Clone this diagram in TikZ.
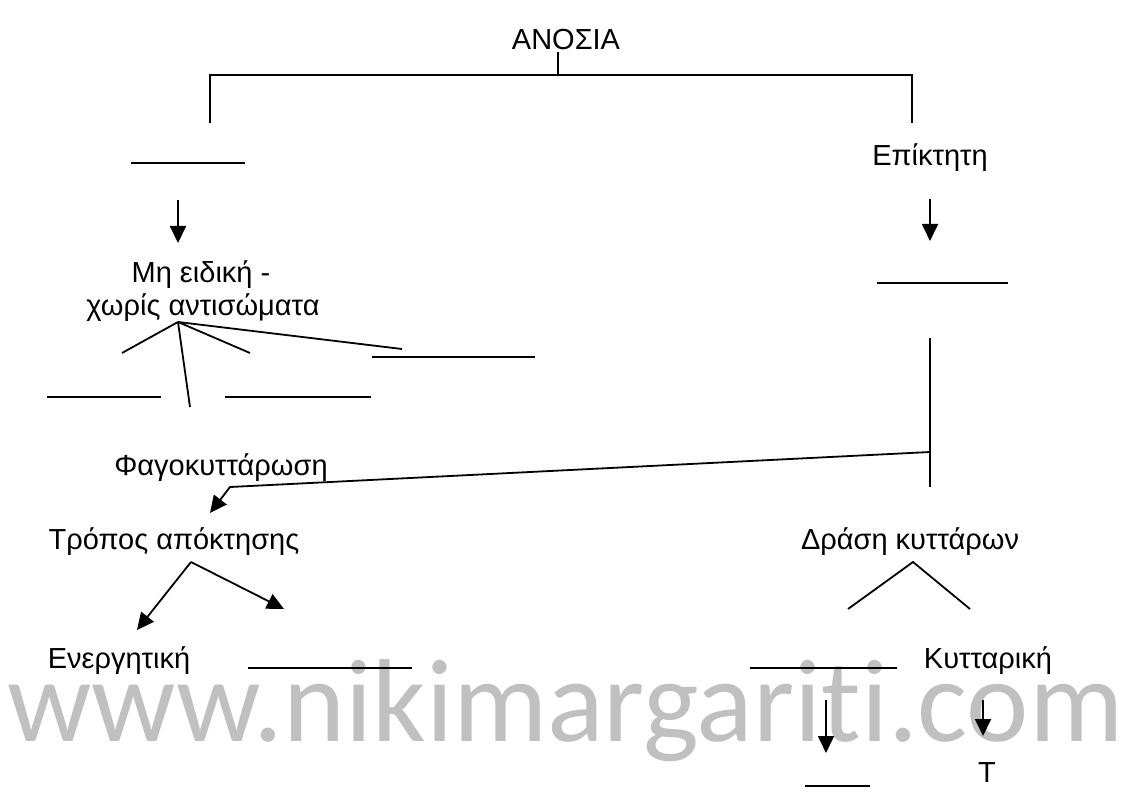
\documentclass[tikz,border=0pt]{standalone}
\usepackage{fontspec}
\setmainfont{Liberation Sans}
\newfontfamily\wmfont{Carlito}[Ligatures=NoCommon]
\usetikzlibrary{arrows.meta}
\definecolor{wmgrey}{RGB}{192,192,192}
\tikzset{
  lbl/.style={anchor=base, inner sep=0pt, font=\fontsize{29}{35}\selectfont},
  ln/.style={line width=1.8pt, line cap=butt},
  arr/.style={ln, -{Triangle[length=17pt,width=16pt]}},
}
\begin{document}
\begin{tikzpicture}[x=1pt,y=-1pt]
\useasboundingbox[fill=white] (0,0) rectangle (1135,794);

% site watermark behind the chart
\node[anchor=base west, inner sep=0pt, text=wmgrey, font=\wmfont\fontsize{118}{120}\selectfont] (wm) at (7,741) {www.nikimargarit\kern0pt i\kern0pt.com};

% labels
\node[lbl] (anosia) at (566,50) {ΑΝΟΣΙΑ};
\node[lbl] (epikt) at (930,166) {Επίκτητη};
\node[lbl] (mh1) at (201,283) {Μη ειδική -};
\node[lbl] (mh2) at (203,316) {χωρίς αντισώματα};
\node[lbl] (fago) at (221,475) {Φαγοκυττάρωση};
\node[lbl] (tropos) at (174,549) {Τρόπος απόκτησης};
\node[lbl] (drasi) at (910,549) {Δράση κυττάρων};
\node[lbl] (energ) at (119,668) {Ενεργητική};
\node[lbl] (kyttar) at (988,668) {Κυτταρική};
\node[lbl] (tcell) at (987,782) {Τ};

% points used by the connectors
\coordinate (stemT) at (558,52);
\coordinate (stemB) at (558,75);
\coordinate (barL) at (210,75);
\coordinate (barR) at (912,75);
\coordinate (dropL) at (210,123);
\coordinate (dropR) at (912,123);
\coordinate (aLs) at (178,200);
\coordinate (aLe) at (178,243);
\coordinate (aRs) at (930,199);
\coordinate (aRe) at (930,241);
\coordinate (fan) at (178,322);
\coordinate (fan1) at (122,353);
\coordinate (fan2) at (190,407);
\coordinate (fan3) at (250,353);
\coordinate (fan4) at (402,349);
\coordinate (vT) at (930,338);
\coordinate (vB) at (930,487);
\coordinate (vJ) at (930,452);
\coordinate (bend) at (230,487);
\coordinate (bendTip) at (210,513);
\coordinate (tr) at (191,562);
\coordinate (trL) at (137,630);
\coordinate (trR) at (284,609);
\coordinate (dr) at (913,562);
\coordinate (drL) at (848,609);
\coordinate (drR) at (970,609);
\coordinate (b1s) at (826,700);
\coordinate (b1e) at (826,753);
\coordinate (b2s) at (983,700);
\coordinate (b2e) at (983,736);

% blanks to fill in
\coordinate (u1a) at (131,163); \coordinate (u1b) at (245,163);
\coordinate (u2a) at (877,283); \coordinate (u2b) at (1008,283);
\coordinate (u3a) at (47,397);  \coordinate (u3b) at (161,397);
\coordinate (u4a) at (225,397); \coordinate (u4b) at (371,397);
\coordinate (u5a) at (372,357); \coordinate (u5b) at (535,357);
\coordinate (u6a) at (248,668); \coordinate (u6b) at (412,668);
\coordinate (u7a) at (750,668); \coordinate (u7b) at (897,668);
\coordinate (u8a) at (805,786); \coordinate (u8b) at (870,786);
\foreach \u in {1,...,8} \draw[ln] (u\u a) -- (u\u b);

% tree bracket under the title
\draw[ln] (stemT) -- (stemB);
\draw[ln] (dropL) -- (barL) -- (barR) -- (dropR);

% arrows and branches
\draw[arr] (aLs) -- (aLe);
\draw[arr] (aRs) -- (aRe);
\draw[ln] (fan) -- (fan1);
\draw[ln] (fan) -- (fan2);
\draw[ln] (fan) -- (fan3);
\draw[ln] (fan) -- (fan4);
\draw[ln] (vT) -- (vB);
\draw[arr] (vJ) -- (bend) -- (bendTip);
\draw[arr] (tr) -- (trL);
\draw[arr] (tr) -- (trR);
\draw[ln] (drL) -- (dr) -- (drR);
\draw[arr] (b1s) -- (b1e);
\draw[arr] (b2s) -- (b2e);
\end{tikzpicture}
\end{document}
